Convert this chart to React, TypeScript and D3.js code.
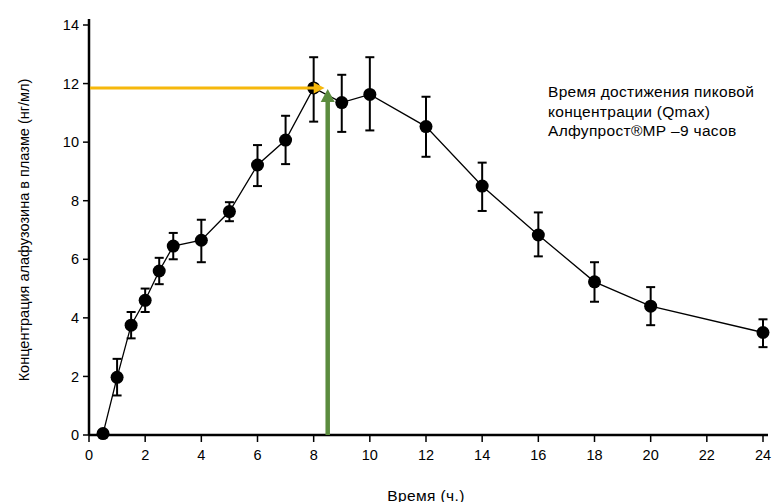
import React from 'react';
import * as d3 from 'd3';

const hours = [0.5, 1, 1.5, 2, 2.5, 3, 4, 5, 6, 7, 8, 9, 10, 12, 14, 16, 18, 20, 24];
const conc = [0.05, 1.97, 3.75, 4.6, 5.6, 6.45, 6.65, 7.63, 9.22, 10.07, 11.85, 11.35, 11.63, 10.53, 8.5, 6.83, 5.23, 4.4, 3.5];
const errLow = [0.05, 1.35, 3.3, 4.2, 5.15, 6.0, 5.9, 7.3, 8.5, 9.25, 10.7, 10.35, 10.4, 9.5, 7.65, 6.1, 4.55, 3.75, 3.0];
const errHigh = [0.05, 2.6, 4.2, 5.0, 6.05, 6.9, 7.35, 7.95, 9.9, 10.9, 12.9, 12.3, 12.9, 11.55, 9.3, 7.6, 5.9, 5.05, 3.95];
const xTicks = [0, 2, 4, 6, 8, 10, 12, 14, 16, 18, 20, 22, 24];
const yTicks = [0, 2, 4, 6, 8, 10, 12, 14];
const peakTime = 8.5;
const peakConc = 11.85;
const noteLines = ['Время достижения пиковой', 'концентрации (Qmax)', 'Алфупрост®МР –9 часов'];

export default function App() {
  const W = 783, H = 502;
  const x = d3.scaleLinear().domain([0, 24]).range([89, 763]);
  const y = d3.scaleLinear().domain([0, 14]).range([435, 25]);
  const line = d3.line<number>().x((d, i) => x(hours[i])).y(d => y(d));
  const font = 'Liberation Sans, Arial, sans-serif';
  const yellow = '#f6b80c';
  const green = '#5b8c3e';

  return (
    <svg width={W} height={H} style={{ position: 'absolute', left: 0, top: 0, background: '#fff' }} fontFamily={font}>
      {/* axes */}
      <line x1={x(0)} x2={x(0)} y1={y(14) - 6} y2={y(0)} stroke="#000" strokeWidth={2.5} />
      <line x1={x(0)} x2={768} y1={y(0)} y2={y(0)} stroke="#000" strokeWidth={2.5} />
      {yTicks.map(t => (
        <g key={'y' + t}>
          <line x1={x(0) - 6} x2={x(0)} y1={y(t)} y2={y(t)} stroke="#000" strokeWidth={1.5} />
          <text x={x(0) - 10} y={y(t)} dy="0.35em" textAnchor="end" fontSize={14.5}>{t}</text>
        </g>
      ))}
      {xTicks.map(t => (
        <g key={'x' + t}>
          <line x1={x(t)} x2={x(t)} y1={y(0)} y2={y(0) + 7} stroke="#000" strokeWidth={1.5} />
          <text x={x(t)} y={y(0) + 25} textAnchor="middle" fontSize={14.5}>{t}</text>
        </g>
      ))}
      <text x={426} y={501} textAnchor="middle" fontSize={15.5} letterSpacing={0.4}>Время (ч.)</text>
      <text transform={`translate(29,${y(7)}) rotate(-90)`} textAnchor="middle" fontSize={14.5}>
        Концентрация алафузозина в плазме (нг/мл)
      </text>

      {/* series */}
      <path d={line(conc) || ''} fill="none" stroke="#000" strokeWidth={1.3} />
      {hours.map((h, i) => errHigh[i] - errLow[i] > 0.05 ? (
        <g key={'e' + i} stroke="#000" strokeWidth={2}>
          <line x1={x(h)} x2={x(h)} y1={y(errLow[i])} y2={y(errHigh[i])} />
          <line x1={x(h) - 4.5} x2={x(h) + 4.5} y1={y(errLow[i])} y2={y(errLow[i])} />
          <line x1={x(h) - 4.5} x2={x(h) + 4.5} y1={y(errHigh[i])} y2={y(errHigh[i])} />
        </g>
      ) : null)}
      {hours.map((h, i) => (
        <circle key={'c' + i} cx={x(h)} cy={y(conc[i])} r={6.5} fill="#000" />
      ))}

      {/* arrows */}
      <line x1={x(0) + 1} x2={x(peakTime) - 12} y1={y(peakConc)} y2={y(peakConc)} stroke={yellow} strokeWidth={3} />
      <path d={`M${x(peakTime) - 3},${y(peakConc)} l-11,-5.5 l0,11 z`} fill={yellow} />
      <line x1={x(peakTime)} x2={x(peakTime)} y1={y(0)} y2={y(peakConc) + 12} stroke={green} strokeWidth={4.5} />
      <path d={`M${x(peakTime)},${y(peakConc) + 1} l-7,13 l14,0 z`} fill={green} />

      <text x={548} y={97} fontSize={15.5} letterSpacing={0.3}>
        {noteLines.map((l, i) => (
          <tspan key={i} x={548} dy={i === 0 ? 0 : 19.5}>{l}</tspan>
        ))}
      </text>
    </svg>
  );
}
